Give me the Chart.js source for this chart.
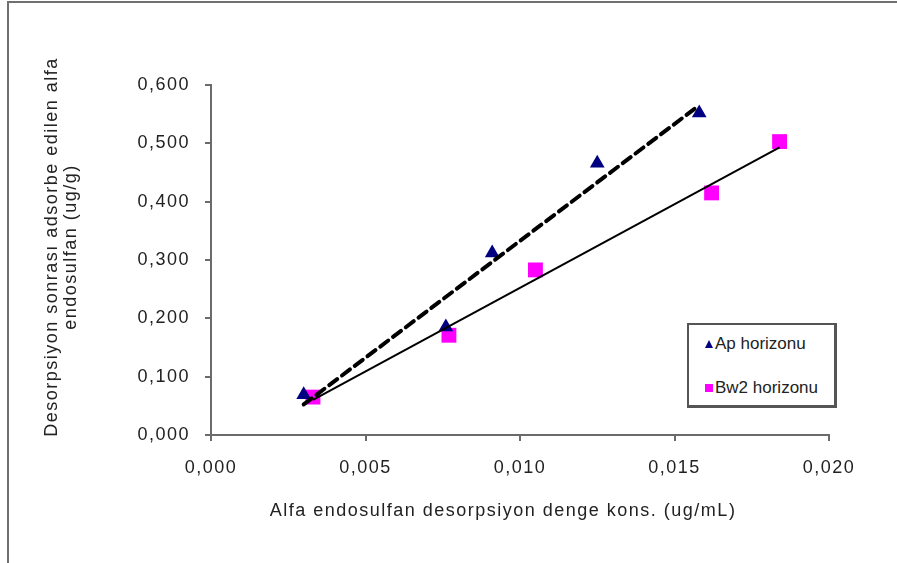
<!DOCTYPE html>
<html>
<head>
<meta charset="utf-8">
<script src="https://cdn.jsdelivr.net/npm/chart.js@4.4.0/dist/chart.umd.min.js"></script>
<style>
  html, body { margin: 0; padding: 0; background: #fff; }
  #wrap { position: relative; width: 897px; height: 563px; overflow: hidden; font-family: "Liberation Sans", Arial, sans-serif; }
  #frame { position: absolute; left: 7px; top: 1px; width: 900px; height: 600px; border-top: 2px solid #707070; border-left: 2px solid #707070; box-sizing: border-box; }
  canvas { position: absolute; left: 0; top: 0; }
  .txt { position: absolute; color: #222; font-size: 18px; white-space: nowrap; letter-spacing: 1.5px; }
  #xtitle { left: 0; width: 1006px; top: 500px; text-align: center; }
  #ytitle { left: 61px; top: 247px; width: 460px; text-align: center; line-height: 19px; transform: translate(-50%, -50%) rotate(-90deg); }
  #legend { position: absolute; left: 687px; top: 323px; width: 150px; height: 85px; box-sizing: border-box; border: 2px solid #555; border-right-width: 3px; border-bottom-width: 3px; background: #fff; }
  .li { position: absolute; left: 16px; font-size: 17px; color: #222; white-space: nowrap; }
  .tri { display: inline-block; width: 0; height: 0; border-left: 4px solid transparent; border-right: 4px solid transparent; border-bottom: 8px solid #000080; margin-right: 2px; vertical-align: 1px; }
  .sq { display: inline-block; width: 8px; height: 8px; background: #ff00ff; margin-right: 2px; vertical-align: 1px; }
</style>
</head>
<body>
<div id="wrap">
  <div id="frame"></div>
  <canvas id="c" width="897" height="563"></canvas>
  <div class="txt" id="xtitle">Alfa endosulfan desorpsiyon denge kons. (ug/mL)</div>
  <div class="txt" id="ytitle">Desorpsiyon sonrası adsorbe edilen alfa<br>endosulfan (ug/g)</div>
  <div id="legend">
    <div class="li" style="top:9px"><span class="tri"></span>Ap horizonu</div>
    <div class="li" style="top:53px"><span class="sq"></span>Bw2 horizonu</div>
  </div>
</div>
<script>
// ---- data ----
const seriesNames = ["Ap horizonu", "Bw2 horizonu"];
const apX = [0.0030, 0.0076, 0.0091, 0.0125, 0.0158];
const apY = [0.069, 0.185, 0.312, 0.466, 0.552];
const bwX = [0.0033, 0.0077, 0.0105, 0.0162, 0.0184];
const bwY = [0.065, 0.171, 0.283, 0.415, 0.503];
const xTicks = [0.000, 0.005, 0.010, 0.015, 0.020];
const yTicks = [0.000, 0.100, 0.200, 0.300, 0.400, 0.500, 0.600];

function pts(xs, ys) { return xs.map((x, i) => ({ x: x, y: ys[i] })); }
// least-squares linear trendline spanning the series' x range
function trend(xs, ys) {
  const n = xs.length;
  const mx = xs.reduce((a, b) => a + b, 0) / n;
  const my = ys.reduce((a, b) => a + b, 0) / n;
  let sxy = 0, sxx = 0;
  for (let i = 0; i < n; i++) { sxy += (xs[i] - mx) * (ys[i] - my); sxx += (xs[i] - mx) * (xs[i] - mx); }
  const b = sxy / sxx, a = my - b * mx;
  const x0 = Math.min(...xs), x1 = Math.max(...xs);
  return [{ x: x0, y: a + b * x0 }, { x: x1, y: a + b * x1 }];
}
const fmt = v => (Math.round(v * 1000) / 1000).toFixed(3).replace('.', ',');
const axisCol = '#6b6b6b';
const tickFont = { family: '"Liberation Sans", Arial, sans-serif', size: 18 };

const spacing = {
  id: 'spacing',
  beforeDraw(chart) { chart.ctx.letterSpacing = '1.5px'; },
  afterDraw(chart) { chart.ctx.letterSpacing = '0px'; }
};

new Chart(document.getElementById('c'), {
  type: 'scatter',
  plugins: [spacing],
  data: {
    datasets: [
      { label: seriesNames[0] + ' trend', data: trend(apX, apY), showLine: true, borderColor: '#000', borderWidth: 4, borderDash: [10, 6], borderCapStyle: 'round', pointRadius: 0, order: 0 },
      { label: seriesNames[1] + ' trend', data: trend(bwX, bwY), showLine: true, borderColor: '#000', borderWidth: 2, pointRadius: 0, order: 0 },
      { label: seriesNames[0], data: pts(apX, apY), pointStyle: 'triangle', pointRadius: 8.5, backgroundColor: '#000080', borderColor: '#000080', borderWidth: 0, order: 1 },
      { label: seriesNames[1], data: pts(bwX, bwY), pointStyle: 'rect', pointRadius: 10.5, backgroundColor: '#ff00ff', borderColor: '#ff00ff', borderWidth: 0, order: 1 }
    ]
  },
  options: {
    responsive: false,
    animation: false,
    layout: { padding: { left: 100, top: 85, right: 68, bottom: 60 } },
    plugins: { legend: { display: false }, tooltip: { enabled: false } },
    scales: {
      x: {
        type: 'linear', min: xTicks[0], max: xTicks[xTicks.length - 1],
        afterBuildTicks: s => { s.ticks = xTicks.map(v => ({ value: v })); },
        afterFit: s => { s.height = 563 - 435 - 60; },
        border: { display: true, color: axisCol, width: 2 },
        grid: { drawOnChartArea: false, drawTicks: true, tickLength: 6, color: axisCol, lineWidth: 2 },
        ticks: { callback: v => fmt(v), color: '#222', font: tickFont, padding: 16, maxRotation: 0 }
      },
      y: {
        type: 'linear', min: yTicks[0], max: yTicks[yTicks.length - 1],
        afterBuildTicks: s => { s.ticks = yTicks.map(v => ({ value: v })); },
        afterFit: s => { s.width = 211 - 100; },
        border: { display: true, color: axisCol, width: 2 },
        grid: { drawOnChartArea: false, drawTicks: true, tickLength: 6, color: axisCol, lineWidth: 2 },
        ticks: { callback: v => fmt(v), color: '#222', font: tickFont, padding: 15 }
      }
    }
  }
});
</script>
</body>
</html>
